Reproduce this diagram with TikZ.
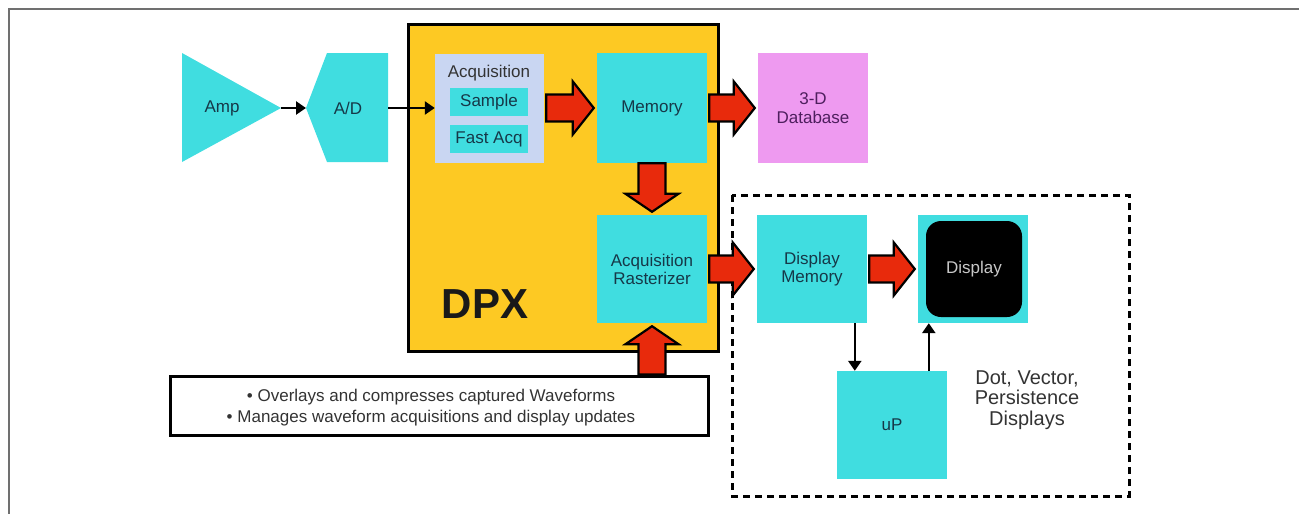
\documentclass[tikz,border=0pt]{standalone}
\usepackage{fontspec}
\setmainfont{Liberation Sans}
\usetikzlibrary{calc,arrows.meta}
\definecolor{cyanbox}{HTML}{40DDE0}
\definecolor{dpxyellow}{HTML}{FDC923}
\definecolor{acqlav}{HTML}{C9D6F2}
\definecolor{dbpink}{HTML}{EE9AF0}
\definecolor{redarr}{HTML}{E82A0C}
\definecolor{boxtext}{HTML}{163848}
\definecolor{dbtext}{HTML}{4E1F5E}
\definecolor{framegray}{HTML}{707070}
\definecolor{graytext}{HTML}{333333}
\definecolor{disptext}{HTML}{C8C8C8}
\tikzset{
  lbl/.style={inner sep=0pt, align=center, text=boxtext, font=\fontsize{17}{18}\selectfont},
  cbox/.style={lbl, fill=cyanbox, minimum width=110pt, minimum height=108pt},
  smallbox/.style={lbl, fill=cyanbox, minimum width=78pt, minimum height=28pt},
  blk/.style={line width=2.5pt, -{Triangle[length=10pt,width=13pt]}},
  blockarrow/.style={fill=redarr, draw=black, line width=2.2pt, line join=miter},
}
\newcommand{\rblock}[2]{\draw[blockarrow] ($(#1.east)+(2,-13.5)$) -- ($(#2.west)+(-24,-13.5)$) -- ($(#2.west)+(-24,-26.5)$) -- ($(#2.west)+(-3,0)$) -- ($(#2.west)+(-24,26.5)$) -- ($(#2.west)+(-24,13.5)$) -- ($(#1.east)+(2,13.5)$) -- cycle;}
\newcommand{\dblock}[2]{\draw[blockarrow] ($(#1.south)+(-13.5,0)$) -- ($(#2.north)+(-13.5,-21)$) -- ($(#2.north)+(-26.5,-21)$) -- ($(#2.north)+(0,-3)$) -- ($(#2.north)+(26.5,-21)$) -- ($(#2.north)+(13.5,-21)$) -- ($(#1.south)+(13.5,0)$) -- cycle;}
\newcommand{\ublock}[2]{\draw[blockarrow] ($(#1.north -| #2.south)+(-13.5,0)$) -- ($(#2.south)+(-13.5,21)$) -- ($(#2.south)+(-26.5,21)$) -- ($(#2.south)+(0,3)$) -- ($(#2.south)+(26.5,21)$) -- ($(#2.south)+(13.5,21)$) -- ($(#1.north -| #2.south)+(13.5,0)$) -- cycle;}
\begin{document}
\begin{tikzpicture}[x=1pt,y=-1pt]
\useasboundingbox (0,0) rectangle (1299,514);
% page frame
\draw[framegray, line width=1.5pt] (9,514) -- (9,9) -- (1299,9);

% DPX block
\node[draw=black, line width=3pt, fill=dpxyellow, minimum width=310pt, minimum height=327pt, inner sep=0pt] (dpx) at (563,188) {};
\node[inner sep=0pt, font=\fontsize{42}{42}\bfseries\selectfont, text=black!90] (dpxlbl) at (485,304) {DPX};

% Amp and A/D
\fill[cyanbox] (182,53) -- (281,108) -- (182,162) -- cycle;
\node[lbl] (amp) at (222,108) {Amp};
\coordinate (ampout) at (281,108);
\fill[cyanbox] (327,53) -- (388,53) -- (388,162) -- (327,162) -- (306,108) -- cycle;
\node[lbl] (ad) at (348,108) {A/D};
\coordinate (adin) at (306,108);
\coordinate (adout) at (388,108);

% Acquisition group
\node[fill=acqlav, minimum width=109pt, minimum height=109pt, inner sep=0pt] (acq) at (489.5,108) {};
\node[lbl, text=black!80] (acqlbl) at (489,73) {Acquisition};
\node[smallbox] (sample) at (489,102) {Sample};
\node[smallbox] (fastacq) at (489,139) {Fast Acq};

% main boxes
\node[cbox, minimum height=110pt] (mem) at (652,108) {Memory};
\node[lbl, fill=dbpink, text=dbtext, minimum width=110pt, minimum height=110pt, font=\fontsize{17}{19}\selectfont] (db) at (813,108) {3-D\\Database};
\node[cbox] (rast) at (652,269) {Acquisition\\Rasterizer};
\node[cbox] (dm) at (812,269) {Display\\Memory};
\node[cbox] (disp) at (973,269) {};
\node[lbl, fill=black, rounded corners=15pt, minimum width=96pt, minimum height=96pt, text=disptext] (dispin) at (974,269) {Display};
\node[cbox] (up) at (892,425) {uP};

% note box
\node[draw=black, line width=3pt, fill=white, minimum width=538pt, minimum height=59pt, inner sep=0pt] (note) at (439,405.5) {};
\node[inner sep=0pt, align=center, text=graytext, font=\fontsize{17}{21}\selectfont] (notetext) at (431,408) {• Overlays and compresses captured Waveforms\\• Manages waveform acquisitions and display updates};

% dashed display group
\draw[line width=3pt, dash pattern=on 7pt off 5pt] (732,195) rectangle (1129,496);
\node[inner sep=0pt, align=center, text=graytext, font=\fontsize{20}{20.5}\selectfont] (dvp) at (1027,400) {Dot, Vector,\\Persistence\\Displays};

% black arrows
\draw[blk] (ampout) -- (adin);
\draw[blk] (adout) -- (acq.west);
\draw[blk] ($(dm.south west)+(98,0)$) -- ($(up.north west)+(18,0)$);
\draw[blk] ($(up.north west)+(92,0)$) -- ($(disp.south west)+(11,0)$);

% red block arrows
\rblock{acq}{mem}
\rblock{mem}{db}
\dblock{mem}{rast}
\ublock{note}{rast}
\rblock{rast}{dm}
\rblock{dm}{disp}
\end{tikzpicture}
\end{document}
